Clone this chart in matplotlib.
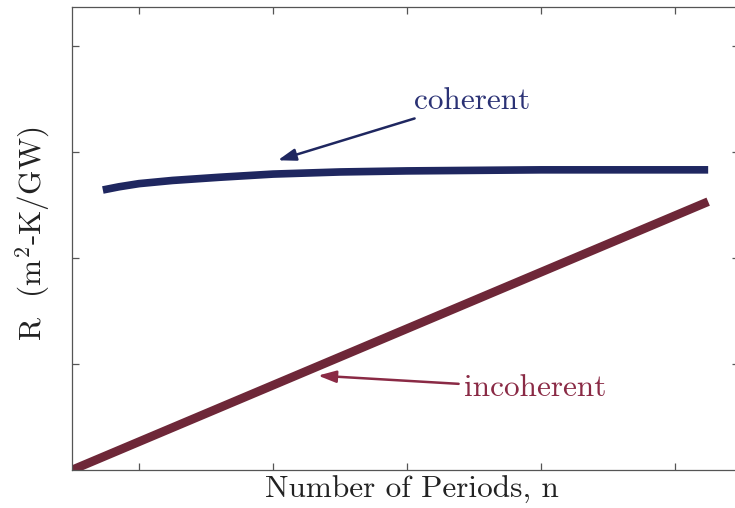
import matplotlib
matplotlib.use("Agg")
import matplotlib.pyplot as plt

plt.rcParams["font.family"] = "serif"
plt.rcParams["font.serif"] = ["cmr10"]
plt.rcParams["mathtext.fontset"] = "cm"
plt.rcParams["axes.formatter.use_mathtext"] = True

# thermal resistance vs number of periods
n_coherent = [0.46, 0.7, 1.0, 1.5, 2.2, 2.6, 3.0, 4.0, 5.0, 6.0, 7.0, 8.0, 9.49]
R_coherent = [2.64, 2.67, 2.70, 2.73, 2.76, 2.775, 2.79, 2.81, 2.82, 2.825, 2.83, 2.83, 2.83]

n_incoherent = [0.0, 9.49]
R_incoherent = [0.0, 2.53]

x_ticks = [1, 3, 5, 7, 9]
y_ticks = [1, 2, 3, 4]

navy = "#1f2760"
maroon = "#6e2738"

fig = plt.figure(figsize=(7.35, 5.08), dpi=100)
ax = fig.add_axes([72 / 735, 38 / 508, 667 / 735, 463.5 / 508])

ax.plot(n_coherent, R_coherent, color=navy, lw=5.5, solid_capstyle="butt",
        solid_joinstyle="round")
ax.plot(n_incoherent, R_incoherent, color=maroon, lw=6.3, solid_capstyle="butt")

ax.annotate("coherent", xy=(3.07, 2.92), xytext=(5.1, 3.48),
            color="#2b3275", fontsize=22.5, va="center", ha="left",
            arrowprops=dict(arrowstyle="-|>,head_length=0.6,head_width=0.2",
                            color=navy, lw=1.8,
                            mutation_scale=18, shrinkA=2, shrinkB=0))
ax.annotate("incoherent", xy=(3.67, 0.89), xytext=(5.85, 0.77),
            color="#8a2a45", fontsize=22.5, va="center", ha="left",
            arrowprops=dict(arrowstyle="-|>,head_length=0.6,head_width=0.2",
                            color="#8a2a45", lw=1.8,
                            mutation_scale=18, shrinkA=2, shrinkB=0))

ax.set_xlim(0, 9.95)
ax.set_ylim(0, 4.37)
ax.set_xticks(x_ticks)
ax.set_yticks(y_ticks)
ax.set_xticklabels([])
ax.set_yticklabels([])
ax.tick_params(direction="in", length=5, width=0.9, color="#555555",
               top=True, right=True)
for s in ax.spines.values():
    s.set_color("#555555")
    s.set_linewidth(0.9)

ax.set_xlabel("Number of Periods, n", fontsize=22.5, color="#222222")
ax.set_ylabel(r"R  (m$^2$-K/GW)", fontsize=22.5, color="#222222")
ax.xaxis.set_label_coords(0.51, -0.013)
ax.yaxis.set_label_coords(-0.03, 0.51)

fig.savefig("out.png", dpi=100)
